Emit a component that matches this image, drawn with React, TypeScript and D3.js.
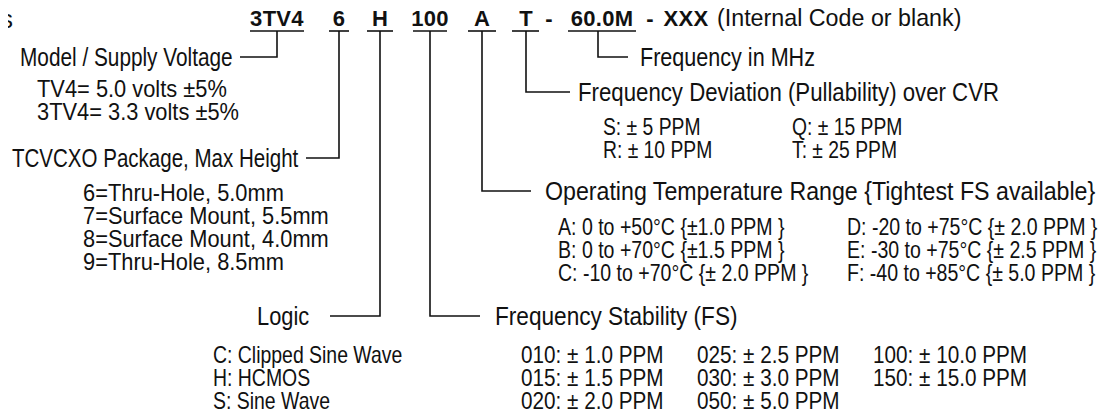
import * as d3 from 'd3'

// part-number segments of the header, in order
const codeParts = ['3TV4', '6', 'H', '100', 'A', 'T', '-', '60.0M', '-', 'XXX']
const codeNote = '(Internal Code or blank)'

const modelTitle = 'Model / Supply Voltage'
const modelItems = ['TV4= 5.0 volts ±5%', '3TV4= 3.3 volts ±5%']

const packageTitle = 'TCVCXO Package, Max Height'
const packageItems = ['6=Thru-Hole, 5.0mm', '7=Surface Mount, 5.5mm', '8=Surface Mount, 4.0mm', '9=Thru-Hole, 8.5mm']

const logicTitle = 'Logic'
const logicItems = ['C: Clipped Sine Wave', 'H: HCMOS', 'S: Sine Wave']

const stabilityTitle = 'Frequency Stability (FS)'
const stabilityCols = [
  ['010: ± 1.0 PPM', '015: ± 1.5 PPM', '020: ± 2.0 PPM'],
  ['025: ± 2.5 PPM', '030: ± 3.0 PPM', '050: ± 5.0 PPM'],
  ['100: ± 10.0 PPM', '150: ± 15.0 PPM'],
]

const tempTitle = 'Operating Temperature Range {Tightest FS available}'
const tempCols = [
  ['A: 0 to +50°C {±1.0 PPM }', 'B: 0 to +70°C {±1.5 PPM }', 'C: -10 to +70°C {± 2.0 PPM }'],
  ['D: -20 to +75°C {± 2.0 PPM }', 'E: -30 to +75°C {± 2.5 PPM }', 'F: -40 to +85°C {± 5.0 PPM }'],
]

const deviationTitle = 'Frequency Deviation (Pullability) over CVR'
const deviationCols = [
  ['S: ± 5 PPM', 'R: ± 10 PPM'],
  ['Q: ± 15 PPM', 'T: ± 25 PPM'],
]

const freqTitle = 'Frequency in MHz'

// layout (px) -----------------------------------------------------------
const W = 1110
const H = 420
const FONT = "'Liberation Sans', Arial, sans-serif"
const TITLE_SIZE = 26
const ITEM_SIZE = 23

const codeSpans: ([number, number] | null)[] = [
  [250, 304], [329, 349], [367, 393], [413, 447], [468, 496], [512, 539], null, [568, 636], null, null,
]
const codeX = [277, 339, 380, 430, 482, 526, 549, 602, 650, 686]
const leaderX = [277, 339, 380, 430, 482, 526, 549, 598, 650, 686]
const codeBaseline = 26
const underlineY = 31
const rowStep = 23

interface Block {
  title: string
  cols: string[][]
  part: number
  titleX: number
  titleY: number
  titleSx: number   // horizontal squeeze to mimic the narrow face
  lineEnd: number
  colX: number[]
  itemSx: number
  firstRow: number
}

const blocks: Block[] = [
  { title: modelTitle, cols: [modelItems], part: 0, titleX: 20, titleY: 57, titleSx: 0.8, lineEnd: 240, colX: [37], itemSx: 0.95, firstRow: 89 },
  { title: packageTitle, cols: [packageItems], part: 1, titleX: 12, titleY: 158, titleSx: 0.79, lineEnd: 306, colX: [83], itemSx: 0.95, firstRow: 193 },
  { title: logicTitle, cols: [logicItems], part: 2, titleX: 257, titleY: 316, titleSx: 0.84, lineEnd: 330, colX: [213], itemSx: 0.845, firstRow: 355 },
  { title: stabilityTitle, cols: stabilityCols, part: 3, titleX: 495, titleY: 316, titleSx: 0.87, lineEnd: 480, colX: [521, 697, 873], itemSx: 0.9, firstRow: 355 },
  { title: tempTitle, cols: tempCols, part: 4, titleX: 545, titleY: 191, titleSx: 0.892, lineEnd: 531, colX: [558, 847], itemSx: 0.85, firstRow: 227 },
  { title: deviationTitle, cols: deviationCols, part: 5, titleX: 578, titleY: 92, titleSx: 0.855, lineEnd: 570, colX: [603, 792], itemSx: 0.84, firstRow: 127 },
  { title: freqTitle, cols: [], part: 7, titleX: 640, titleY: 57, titleSx: 0.83, lineEnd: 628, colX: [], itemSx: 1, firstRow: 0 },
]

function leader(b: Block) {
  const x = leaderX[b.part]
  const p = d3.path()
  p.moveTo(x, underlineY)
  p.lineTo(x, b.titleY)
  p.lineTo(b.lineEnd, b.titleY)
  return p.toString()
}

function NText({ x, y, size, sx, children }: { x: number; y: number; size: number; sx: number; children: string }) {
  return (
    <text transform={`translate(${x},${y}) scale(${sx},1)`} dy="0.35em"
      fontFamily={FONT} fontSize={size} fill="#111">{children}</text>
  )
}

export default function App() {
  return (
    <svg width={W} height={H} style={{ display: 'block', margin: -8, background: '#fff' }}>
      {/* stray glyph left over from a clipped word in the source */}
      <text x={0} y={28} fontFamily={FONT} fontSize={26} fill="#111">s</text>

      {codeParts.map((c, i) => (
        <text key={'c' + i} x={codeX[i]} y={codeBaseline} textAnchor="middle"
          fontFamily={FONT} fontWeight="bold" fontSize={22} letterSpacing={0.3} fill="#111">{c}</text>
      ))}
      {codeSpans.map((s, i) => s && (
        <line key={'u' + i} x1={s[0]} x2={s[1]} y1={underlineY} y2={underlineY} stroke="#111" strokeWidth={1.6} />
      ))}
      <NText x={717} y={18} size={24} sx={0.97}>{codeNote}</NText>

      {blocks.map((b, bi) => {
        const rowY = d3.scaleLinear().domain([0, 1]).range([b.firstRow, b.firstRow + rowStep])
        return (
          <g key={'b' + bi}>
            <path d={leader(b)} fill="none" stroke="#111" strokeWidth={1.6} />
            <NText x={b.titleX} y={b.titleY} size={TITLE_SIZE} sx={b.titleSx}>{b.title}</NText>
            {b.cols.map((col, ci) => col.map((t, ri) => (
              <NText key={ci + '-' + ri} x={b.colX[ci]} y={rowY(ri)} size={ITEM_SIZE} sx={b.itemSx}>{t}</NText>
            )))}
          </g>
        )
      })}
    </svg>
  )
}
